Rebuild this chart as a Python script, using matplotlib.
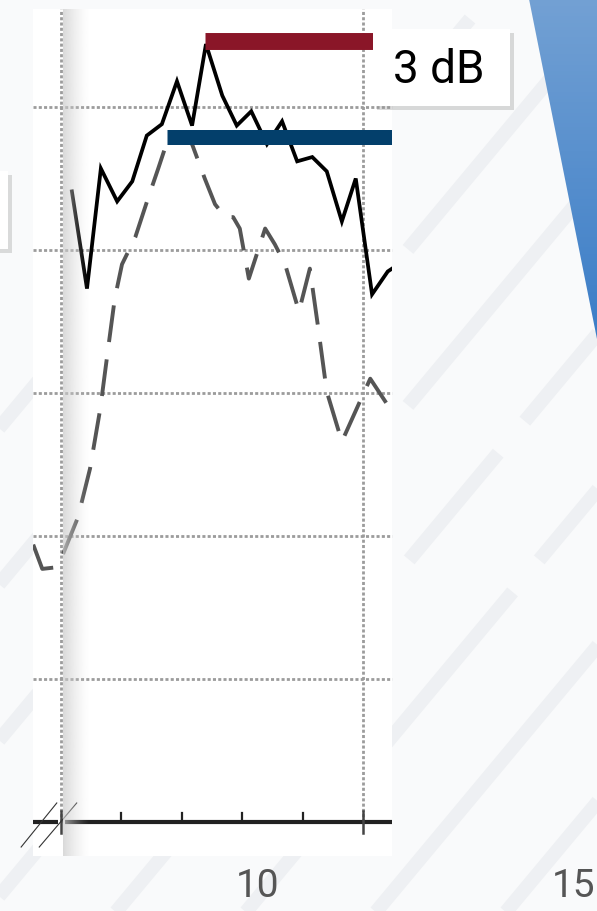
import numpy as np
import matplotlib.pyplot as plt
from matplotlib.patches import Rectangle, Polygon

# solid trace (level, dB) against position on the axis
solid_x = [0.18, 0.43, 0.66, 0.93, 1.18, 1.42, 1.67, 1.92, 2.17, 2.40, 2.67, 2.91,
           3.15, 3.41, 3.66, 3.91, 4.16, 4.40, 4.65, 4.88, 5.15, 5.41, 5.66]
solid_y = [44.1, 37.3, 45.7, 43.4, 44.8, 48.0, 48.8, 51.8, 48.7, 54.4, 50.8, 48.7,
           49.7, 47.4, 49.0, 46.2, 46.5, 45.5, 42.0, 45.0, 36.9, 38.5, 39.2]

# dashed trace
dash_x = [-0.46, -0.31, -0.10, 0.03, 0.28, 0.48, 0.65, 0.78, 0.89, 1.01, 1.23, 1.44,
          1.61, 1.72, 1.84, 1.97, 2.17, 2.38, 2.55, 2.72, 2.85, 2.96, 3.11, 3.38,
          3.54, 3.71, 3.94, 4.12, 4.25, 4.40, 4.65, 4.98, 5.12, 5.48, 5.70]
dash_y = [19.4, 17.7, 17.8, 18.7, 21.3, 24.7, 28.9, 33.1, 36.6, 39.0, 40.9, 43.6,
          45.7, 47.1, 47.8, 48.1, 47.4, 45.0, 43.2, 42.3, 42.3, 41.5, 38.0, 41.5,
          40.4, 39.0, 35.7, 38.7, 34.8, 30.1, 26.6, 29.7, 31.0, 28.7, 26.8]

# peak markers
red_bar = (2.38, 5.60, 54.6)
blue_bar = (1.75, 5.60, 47.9)
label_3db = "3 dB"

grid_y = [10, 20, 30, 40, 50]
grid_x = [0, 5]
minor_x = [1, 2, 3, 4]
tick_labels = ["10", "15"]

W, H = 597, 912
fig = plt.figure(figsize=(W / 100, H / 100), dpi=100)
fig.patch.set_facecolor('#f9fafb')

# ---- background layer, pixel coordinates
bg = fig.add_axes([0, 0, 1, 1], zorder=0)
bg.set_xlim(0, W)
bg.set_ylim(H, 0)
bg.axis('off')

# faint diagonal slide pattern
for c in [-420, -290, -160, -30, 100, 230, 360, 490, 620]:
    bg.plot([c, c + 760], [H + 20, H + 20 - 760 * 1.2], color='#eef0f3', lw=10,
            solid_capstyle='butt', dashes=(30, 3, 10, 3), zorder=1)

blue = Polygon([[529, 0], [W, 0], [W, 340]], closed=True, fc='none', ec='none')
bg.add_patch(blue)
grad = np.linspace(0, 1, 100)[:, None]
c1 = np.array([0.45, 0.63, 0.83])
c2 = np.array([0.23, 0.49, 0.78])
img = (1 - grad)[:, :, None] * c1 + grad[:, :, None] * c2
im = bg.imshow(img, extent=(520, W, 345, 0), aspect='auto', zorder=3)
im.set_clip_path(blue)

# white chart panel
bg.add_patch(Rectangle((33, 10), 359, 847, fc='white', ec='none', zorder=2))
# cut-off box on the far left
bg.add_patch(Rectangle((-5, 176), 17, 78, fc='#bbbbbb', ec='none', alpha=0.5, zorder=2))
bg.add_patch(Rectangle((-5, 172), 13, 78, fc='white', ec='none', zorder=3))

# ---- chart layer, data coordinates
ax = fig.add_axes([0, 0, 1, 1], zorder=1)
ax.patch.set_alpha(0)
ax.axis('off')
ax.set_xlim(-61 / 60.4, (W - 61) / 60.4)
ax.set_ylim((823 - H) / 14.3, 823 / 14.3)

x0, x1 = -0.46, 5.48
y0, y1 = -2.38, 56.85
clip = Rectangle((x0, y0), x1 - x0, y1 - y0, transform=ax.transData)

for g in grid_y:
    ax.plot([x0, x1], [g, g], color='#9c9c9c', lw=2.0, dashes=(1.1, 0.8))
for g in grid_x:
    ax.plot([g, g], [0, y1], color='#9c9c9c', lw=2.0, dashes=(1.1, 0.8))

ax.plot([x0, -0.05], [0, 0], color='#222222', lw=3.0, solid_capstyle='butt')
ax.plot([0.07, x1], [0, 0], color='#222222', lw=3.0, solid_capstyle='butt')
for t in minor_x:
    ax.plot([t, t], [0, 0.6], color='#222222', lw=1.6)
for t in grid_x:
    ax.plot([t, t], [-0.8, 0.8], color='#444444', lw=1.8)
# axis break marks
ax.plot([-0.66, -0.07], [-1.75, 1.33], color='#333333', lw=0.8)
ax.plot([-0.36, 0.26], [-1.75, 1.33], color='#333333', lw=0.8)

ln, = ax.plot(dash_x, dash_y, color='#555555', lw=2.8, dashes=(9.5, 4.5))
ln.set_clip_path(clip)
ln, = ax.plot(solid_x, solid_y, color='black', lw=2.7, solid_joinstyle='miter')
ln.set_clip_path(clip)

r = ax.hlines(red_bar[2], red_bar[0], red_bar[1], color='#8a1628', lw=12.2)
r.set_clip_path(clip)
b = ax.hlines(blue_bar[2], blue_bar[0], blue_bar[1], color='#033f6b', lw=10.8)
b.set_clip_path(clip)

# ---- overlay layer, pixel coordinates
top = fig.add_axes([0, 0, 1, 1], zorder=2)
top.patch.set_alpha(0)
top.set_xlim(0, W)
top.set_ylim(H, 0)
top.axis('off')

# soft grey fold next to the y axis
fold = np.zeros((1, 60, 4))
fold[..., :3] = 0.80
fold[..., 3] = np.linspace(0.8, 0.0, 60) ** 1.4
top.imshow(fold, extent=(63, 90, 857, 10), aspect='auto', interpolation='bilinear')

# "3 dB" callout
top.add_patch(Rectangle((377, 34), 137, 77, fc='#999999', ec='none', alpha=0.35))
top.add_patch(Rectangle((373, 30), 137, 77, fc='white', ec='none'))
top.text(439, 70, label_3db, fontsize=33, family='Roboto', color='black',
         ha='center', va='center')

top.text(258, 887, tick_labels[0], fontsize=28, family='Roboto', color='#555555',
         ha='center', va='center')
top.text(574, 887, tick_labels[1], fontsize=28, family='Roboto', color='#555555',
         ha='center', va='center')

fig.savefig('out.png', dpi=100, facecolor=fig.get_facecolor())
